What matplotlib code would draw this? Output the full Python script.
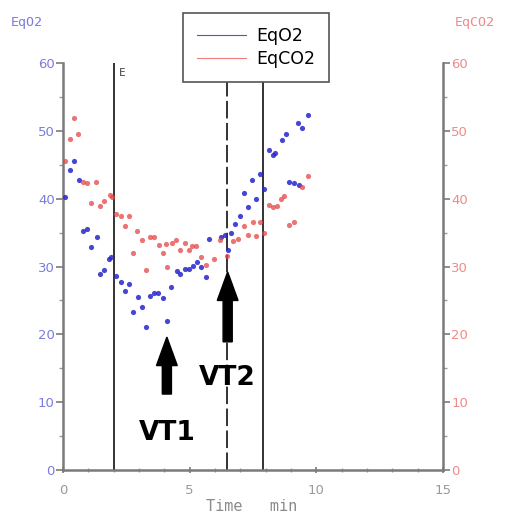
import matplotlib.pyplot as plt
import numpy as np

# EqO2 (blue) breath-by-breath points
t_o2 = [0.08, 0.28, 0.45, 0.62, 0.8, 0.95, 1.1, 1.33, 1.45, 1.6, 1.8, 1.9,
        2.08, 2.3, 2.45, 2.6, 2.78, 2.97, 3.13, 3.27, 3.45, 3.6, 3.75, 3.95,
        4.12, 4.28, 4.5, 4.6, 4.8, 4.98, 5.12, 5.28, 5.46, 5.63, 5.77, 6.25,
        6.4, 6.5, 6.64, 6.8, 6.98, 7.13, 7.3, 7.45, 7.62, 7.78, 7.95, 8.15,
        8.28, 8.35, 8.65, 8.8, 8.94, 9.13, 9.27, 9.3, 9.43, 9.66]
eq_o2 = [40.2, 44.2, 45.6, 42.8, 35.2, 35.6, 32.9, 34.4, 28.9, 29.5, 31.1, 31.4,
         28.6, 27.7, 26.4, 27.4, 23.3, 25.5, 24.0, 21.1, 25.6, 26.1, 26.1, 25.3,
         22.0, 27.0, 29.3, 28.9, 29.7, 29.6, 30.1, 30.6, 30.0, 28.5, 34.0, 34.3,
         34.6, 32.4, 35.0, 36.3, 37.5, 40.9, 38.8, 42.8, 39.9, 43.7, 41.5, 47.2,
         46.5, 46.7, 48.7, 49.5, 42.4, 42.3, 51.2, 42.0, 50.5, 52.4]

# EqCO2 (red)
t_co2 = [0.06, 0.28, 0.45, 0.6, 0.8, 0.96, 1.1, 1.29, 1.46, 1.63, 1.85, 1.94,
         2.09, 2.28, 2.44, 2.6, 2.77, 2.94, 3.12, 3.27, 3.45, 3.58, 3.78, 3.95,
         4.08, 4.1, 4.3, 4.47, 4.6, 4.8, 4.98, 5.1, 5.26, 5.46, 5.66, 5.98,
         6.18, 6.47, 6.7, 6.9, 7.16, 7.3, 7.49, 7.62, 7.76, 7.95, 8.15, 8.28,
         8.44, 8.6, 8.74, 8.94, 9.13, 9.43, 9.66]
eq_co2 = [45.5, 48.8, 51.9, 49.5, 42.5, 42.3, 39.4, 42.5, 38.9, 39.6, 40.6, 40.3,
          37.8, 37.5, 36.0, 37.5, 32.0, 35.2, 33.9, 29.5, 34.4, 34.3, 33.2, 32.0,
          33.3, 30.0, 33.5, 33.9, 32.4, 33.5, 32.5, 33.0, 33.0, 31.4, 30.2, 31.1,
          33.9, 31.5, 33.7, 34.0, 36.0, 34.7, 36.6, 34.5, 36.5, 35.0, 39.1, 38.8,
          38.9, 40.0, 40.4, 36.1, 36.6, 41.7, 43.4]

# markers: (x, style)
vlines = [(2.0, "solid"), (6.47, "dashed"), (7.9, "solid")]
# thresholds: label, x, arrow tip, arrow base, text position
thresholds = [("VT1", 4.1, 19.6, 11.2, 5.4), ("VT2", 6.5, 29.2, 18.9, 13.6)]

blue = "#2626cc"
red = "#e64444"

fig = plt.figure(figsize=(5.06, 5.13), dpi=100)
ax = fig.add_axes([0.1245, 0.0838, 0.751, 0.7932])

ax.scatter(t_o2, eq_o2, s=14, color=blue, alpha=0.85, linewidths=0, zorder=3)
ax.scatter(t_co2, eq_co2, s=14, color=red, alpha=0.75, linewidths=0, zorder=3)
# legend proxies
ax.plot([], [], color=blue, lw=0.8, alpha=0.8, label="EqO2")
ax.plot([], [], color=red, lw=0.8, alpha=0.7, label="EqCO2")

for x, ls in vlines:
    if ls == "dashed":
        ax.axvline(x, color="#333333", lw=1.4, dashes=(9, 2.3), zorder=2)
    else:
        ax.axvline(x, color="#333333", lw=1.4, zorder=2)
ax.text(2.2, 58.6, "E", fontsize=8, family="DejaVu Sans Mono", color="#444444",
        ha="left", va="center")

for name, x, tip, base, ty in thresholds:
    ax.arrow(x, base, 0, tip - base, width=0.36, head_width=0.82,
             head_length=4.2, length_includes_head=True, color="black", zorder=4)
    ax.text(x, ty, name, fontsize=19, fontweight="bold", ha="center",
            va="center", color="black", zorder=4)

ax.set_xlim(0, 15)
ax.set_ylim(0, 60)
ax.set_xticks([0, 5, 10, 15])
ax.set_xticks(np.arange(0, 16, 1), minor=True)
ax.set_yticks(np.arange(0, 61, 10))
ax.set_yticks(np.arange(5, 60, 10), minor=True)

for s in ["left", "bottom", "right"]:
    ax.spines[s].set_color("#7a7a7a")
    ax.spines[s].set_linewidth(1.8)
ax.spines["top"].set_visible(False)

ax.tick_params(axis="y", which="major", length=5, width=1.2, color="#7a7a7a",
               labelcolor="#7b7be0", labelsize=9.5, pad=1,
               left=True, right=True, labelleft=True, labelright=True)
ax.tick_params(axis="y", which="minor", length=3, width=1, color="#9a9a9a",
               left=True, right=True)
ax.tick_params(axis="x", which="major", length=4, width=1.2, color="#7a7a7a",
               labelcolor="#9a9a9a", labelsize=9.5, direction="inout", pad=8)
ax.tick_params(axis="x", which="minor", length=3, width=1, color="#9a9a9a",
               direction="inout")
# right labels red
for tk in ax.yaxis.get_major_ticks():
    tk.label2.set_color("#f08a8a")

ax.text(-0.138, 1.10, "EqO2", transform=ax.transAxes, fontsize=9.5,
        family="DejaVu Sans Mono", color="#7b7be0", ha="left", va="center")
ax.text(1.03, 1.10, "EqCO2", transform=ax.transAxes, fontsize=9.5,
        family="DejaVu Sans Mono", color="#f08a8a", ha="left", va="center")
ax.text(0.497, -0.09, "Time   min", transform=ax.transAxes, fontsize=11,
        family="DejaVu Sans Mono", color="#8a8a8a", ha="center", va="center")

leg = ax.legend(loc="upper left", bbox_to_anchor=(0.362, 0.975),
                bbox_transform=fig.transFigure, fontsize=12.5,
                frameon=True, fancybox=False, edgecolor="#555555",
                handlelength=2.8, borderpad=0.8, labelspacing=0.3,
                handletextpad=0.6, framealpha=1, borderaxespad=0)
leg.get_frame().set_linewidth(1.2)
leg.set_zorder(10)

fig.savefig("out.png", dpi=100)
